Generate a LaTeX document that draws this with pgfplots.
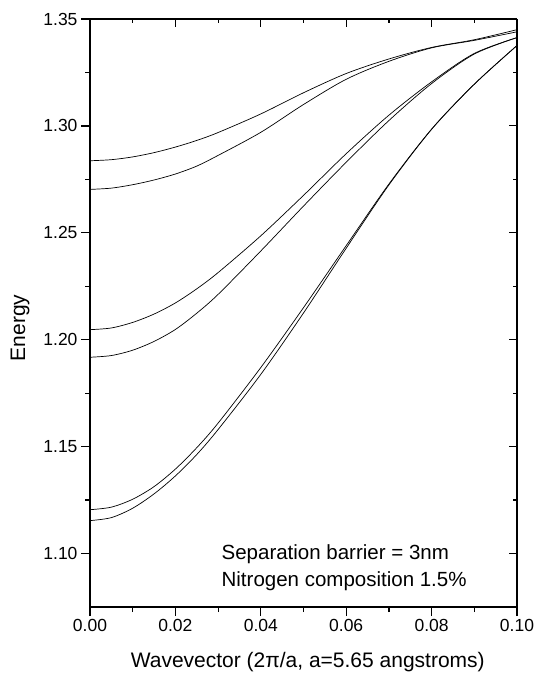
\documentclass[border=0pt]{standalone}
\usepackage{fontspec}
\setmainfont{Liberation Sans}
\usepackage{pgfplots}
\pgfplotsset{compat=1.18}

\begin{document}
\begin{tikzpicture}[x=1pt,y=1pt]
\pgfplotsset{
  frame/.style={
    at={(0,0)}, anchor=south west,
    scale only axis, width=427pt, height=588pt,
    xmin=0, xmax=0.1, ymin=1.075, ymax=1.35,
    xtick={0,0.02,0.04,0.06,0.08,0.1},
    ytick={1.10,1.15,1.20,1.25,1.30,1.35},
    minor x tick num=1, minor y tick num=1,
    axis line style={line width=1.4pt,-},
    every tick/.style={line width=1.2pt, black},
  },
  band/.style={black, line width=0.7pt, smooth, no marks},
}
% data axis, ticks outward on bottom and left
\begin{axis}[
  frame,
  axis x line*=bottom, axis y line*=left,
  tick align=outside,
  major tick length=9pt, minor tick length=5pt,
  scaled x ticks=false, scaled y ticks=false,
  xticklabel={\pgfmathprintnumber[fixed,fixed zerofill,precision=2,assume math mode=true]{\tick}},
  yticklabel={\pgfmathprintnumber[fixed,fixed zerofill,precision=2,assume math mode=true]{\tick}},
  tick label style={font=\fontsize{17.5}{20}\selectfont},
  xlabel={Wavevector (2π/a, a=5.65 angstroms)},
  xlabel style={at={(axis description cs:0.51,-0.1037)}, anchor=base, font=\fontsize{21}{25}\selectfont},
  ylabel={Energy},
  ylabel style={at={(axis description cs:-0.164,0.4745)}, anchor=center, font=\fontsize{21}{25}\selectfont},
]
% upper pair
\addplot[band] coordinates {
  (0,1.2837) (0.005,1.2842) (0.01,1.2855) (0.015,1.2875) (0.02,1.2901) (0.025,1.2932)
  (0.03,1.2969) (0.04,1.3056) (0.05,1.3155) (0.06,1.3245) (0.07,1.3313)
  (0.08,1.3367) (0.09,1.3403) (0.1,1.3450)
};
\addplot[band] coordinates {
  (0,1.2703) (0.005,1.2709) (0.01,1.2725) (0.015,1.2747) (0.02,1.2775) (0.025,1.2812)
  (0.03,1.2862) (0.04,1.2970) (0.05,1.3100) (0.06,1.3218) (0.07,1.3302)
  (0.08,1.3365) (0.09,1.3400) (0.1,1.3440)
};
% middle pair
\addplot[band] coordinates {
  (0,1.2047) (0.005,1.2055) (0.01,1.2081) (0.015,1.2120) (0.02,1.2172) (0.025,1.2238)
  (0.03,1.2314) (0.04,1.2486) (0.05,1.2675) (0.06,1.2870) (0.07,1.3050)
  (0.08,1.3206) (0.09,1.3339) (0.1,1.3413)
};
\addplot[band] coordinates {
  (0,1.1918) (0.005,1.1926) (0.01,1.1951) (0.015,1.1992) (0.02,1.2048) (0.025,1.2124)
  (0.03,1.2212) (0.04,1.2415) (0.05,1.2625) (0.06,1.2830) (0.07,1.3025)
  (0.08,1.3198) (0.09,1.3336) (0.1,1.3413)
};
% lower pair
\addplot[band] coordinates {
  (0,1.1205) (0.005,1.1217) (0.01,1.1254) (0.015,1.1313) (0.02,1.1395) (0.025,1.1495)
  (0.03,1.1610) (0.04,1.1870) (0.05,1.2150) (0.06,1.2440) (0.07,1.2728)
  (0.08,1.2985) (0.09,1.3195) (0.1,1.3376)
};
\addplot[band] coordinates {
  (0,1.1154) (0.005,1.1168) (0.01,1.1212) (0.015,1.1279) (0.02,1.1363) (0.025,1.1463)
  (0.03,1.1580) (0.04,1.1838) (0.05,1.2125) (0.06,1.2428) (0.07,1.2724)
  (0.08,1.2984) (0.09,1.3195) (0.1,1.3376)
};
\node[anchor=base west, font=\fontsize{20.5}{24}\selectfont] at (axis cs:0.030,1.0971) {Separation barrier = 3nm};
\node[anchor=base west, font=\fontsize{20.5}{24}\selectfont] at (axis cs:0.030,1.0846) {Nitrogen composition 1.5\%};
\end{axis}
% mirrored frame, ticks inward on top and right
\begin{axis}[
  frame,
  axis x line*=top, axis y line*=right,
  tick align=inside,
  major tick length=8pt, minor tick length=4pt,
  xticklabels={}, yticklabels={},
]
\end{axis}
\pgfresetboundingbox
\path[use as bounding box] (-90,-72) rectangle (447,607);
\end{tikzpicture}
\end{document}
